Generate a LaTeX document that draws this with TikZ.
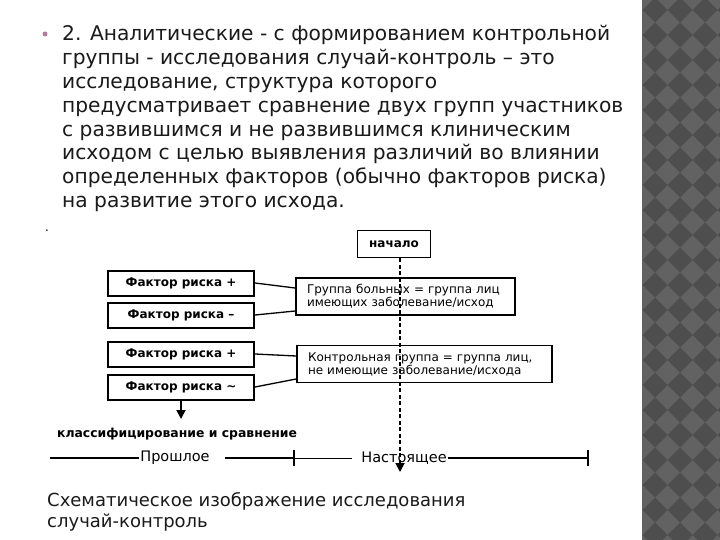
\documentclass[tikz,border=0pt]{standalone}
\usepackage{fontspec}
\setmainfont{DejaVu Sans}
\usetikzlibrary{positioning, arrows.meta}

\definecolor{stripdark}{HTML}{4E4E4E}
\definecolor{striplight}{HTML}{626262}
\definecolor{bulletpink}{HTML}{B57A9E}
\definecolor{bodytext}{HTML}{1A1A1A}

\begin{document}
\begin{tikzpicture}[x=1pt, y=-1pt,
        factor/.style={rectangle, draw, line width=2pt, minimum width=146pt, minimum height=25pt, inner sep=0pt, font=\fontsize{12}{13}\selectfont\bfseries},
        group/.style={rectangle, draw, line width=1.8pt, align=left, inner xsep=11pt, inner ysep=0pt, minimum height=37pt, font=\fontsize{12}{13}\selectfont},
        link/.style={line width=1.3pt},
        arrow/.style={line width=1.8pt, -{Triangle[width=9pt,length=9pt]}},
        timeline/.style={line width=2pt},
    ]
    \useasboundingbox (0,0) rectangle (720,540);
    \fill[white] (0,0) rectangle (720,540);

    % Decorative strip
    \begin{scope}
        \clip (642,0) rectangle (720,540);
        \fill[striplight] (642,0) rectangle (720,540);
        \foreach \i in {0,...,3}
            \foreach \j in {-1,...,22}
                \fill[stripdark] (655+25*\i,10+25*\j) +(-12.5,0) -- +(0,-12.5) -- +(12.5,0) -- +(0,12.5) -- cycle;
    \end{scope}

    % Text
    \fill[bulletpink] (45,34) circle (2.5);
    \foreach \line [count=\i] in {{2. Аналитические - с формированием контрольной},
            {группы - исследования случай-контроль – это},
            {исследование, структура которого},
            {предусматривает сравнение двух групп участников},
            {с развившимся и не развившимся клиническим},
            {исходом с целью выявления различий во влиянии},
            {определенных факторов (обычно факторов риска)},
            {на развитие этого исхода.}}
        \node[anchor=base west, inner sep=0pt, text=bodytext, font=\fontsize{20.2}{23}\selectfont] (line\i) at (62,41+23.8*\i-23.8) {\line};
    \node[anchor=base west, inner sep=0pt, font=\fontsize{12}{14}\selectfont] (dot) at (45,232) {.};

    % Diagram
    \node[draw, line width=1.8pt, minimum width=73pt, minimum height=27pt, font=\fontsize{12}{13}\selectfont\bfseries] (start) at (394,244) {начало};

    \node[factor] (risk1) at (181,283) {Фактор риска +};
    \node[factor, below=5pt of risk1] (risk2) {Фактор риска –};
    \node[factor, below=12pt of risk2] (risk3) {Фактор риска +};
    \node[factor, below=6pt of risk3] (risk4) {Фактор риска \textasciitilde};

    \node[group, text width=197pt] (cases) at (405.5,296.5) {Группа больных = группа лиц\\имеющих заболевание/исход};
    \node[group, text width=233pt] (controls) at (424.5,364) {Контрольная группа = группа лиц,\\не имеющие заболевание/исхода};

    \draw[link] (risk1.east) -- ([yshift=8.5pt]cases.west);
    \draw[link] (risk2.east) -- ([yshift=-14.5pt]cases.west);
    \draw[link] (risk3.east) -- ([yshift=8pt]controls.west);
    \draw[link] (risk4.east) -- ([yshift=-15pt]controls.west);

    \coordinate (now) at (400,472);
    \draw[line width=1.8pt, dash pattern=on 4pt off 2.5pt, -{Triangle[width=9pt,length=9pt]}] (start.south -| now) -- (now);

    \coordinate (sorted) at (181,419);
    \draw[arrow] (risk4.south) -- (sorted);
    \node[font=\fontsize{12.4}{14}\selectfont\bfseries] (compare) at (177,434) {классифицирование и сравнение};

    % Timeline
    \node[font=\fontsize{14.5}{16}\selectfont] (past) at (175,458) {Прошлое};
    \node[font=\fontsize{14.5}{16}\selectfont] (present) at (404,458) {Настоящее};
    \coordinate (t0) at (50,458);
    \coordinate (tick1) at (294,458);
    \coordinate (tick2) at (588,458);
    \draw[timeline] (t0) -- ([xshift=2pt]past.west |- t0);
    \draw[timeline] ([xshift=12pt]past.east |- t0) -- (tick1);
    \draw[line width=1pt] (tick1) -- ([xshift=-6pt]present.west |- t0);
    \draw[timeline] ([xshift=-2pt]present.east |- t0) -- (tick2);
    \draw[timeline] ([yshift=8pt]tick1) -- ([yshift=-8pt]tick1);
    \draw[timeline] ([yshift=8pt]tick2) -- ([yshift=-8pt]tick2);

    % Caption
    \node[anchor=base west, inner sep=0pt, text=bodytext, font=\fontsize{18}{20}\selectfont] (caption1) at (47,506) {Схематическое изображение исследования};
    \node[anchor=base west, inner sep=0pt, text=bodytext, font=\fontsize{18}{20}\selectfont] (caption2) at (47,527) {случай-контроль};
\end{tikzpicture}
\end{document}
